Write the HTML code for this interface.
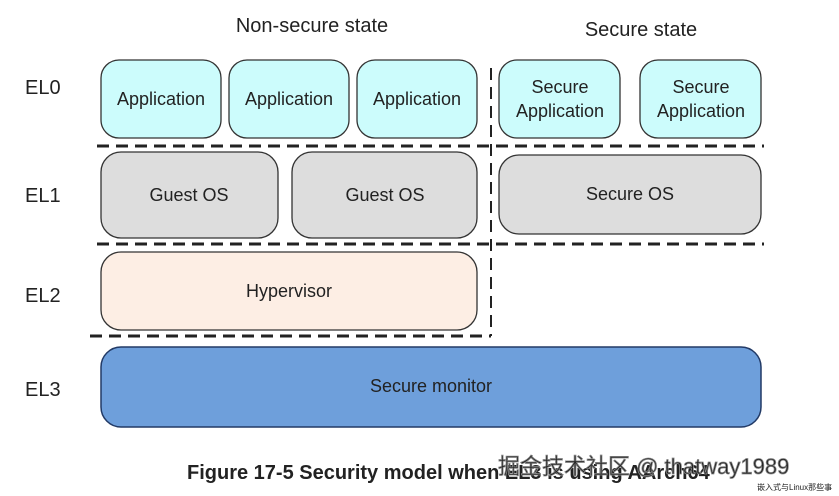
<!DOCTYPE html>
<html><head><meta charset="utf-8"><style>
html,body{margin:0;padding:0;background:#fff;}
svg{display:block;}
text{font-family:"Liberation Sans",Arial,sans-serif;fill:#222;}
</style></head><body>
<svg width="839" height="496" viewBox="0 0 839 496" xmlns="http://www.w3.org/2000/svg">
<text x="312" y="32" font-size="20" text-anchor="middle">Non-secure state</text>
<text x="641" y="36" font-size="20" text-anchor="middle">Secure state</text>
<g font-size="20">
<text x="25" y="94">EL0</text>
<text x="25" y="202">EL1</text>
<text x="25" y="302">EL2</text>
<text x="25" y="396">EL3</text>
</g>
<g fill="#ccfcfc" stroke="#333" stroke-width="1.3">
<rect x="101" y="60" width="120" height="78" rx="18"/>
<rect x="229" y="60" width="120" height="78" rx="18"/>
<rect x="357" y="60" width="120" height="78" rx="18"/>
<rect x="499" y="60" width="121" height="78" rx="18"/>
<rect x="640" y="60" width="121" height="78" rx="18"/>
</g>
<g font-size="18" text-anchor="middle">
<text x="161" y="105">Application</text>
<text x="289" y="105">Application</text>
<text x="417" y="105">Application</text>
<text x="560" y="93">Secure</text>
<text x="560" y="117">Application</text>
<text x="701" y="93">Secure</text>
<text x="701" y="117">Application</text>
</g>
<g fill="#dddddd" stroke="#333" stroke-width="1.3">
<rect x="101" y="152" width="177" height="86" rx="20"/>
<rect x="292" y="152" width="185" height="86" rx="20"/>
<rect x="499" y="155" width="262" height="79" rx="20"/>
</g>
<g font-size="18" text-anchor="middle">
<text x="189" y="201">Guest OS</text>
<text x="385" y="201">Guest OS</text>
<text x="630" y="200">Secure OS</text>
</g>
<rect x="101" y="252" width="376" height="78" rx="20" fill="#fdeee4" stroke="#333" stroke-width="1.3"/>
<text x="289" y="297" font-size="18" text-anchor="middle">Hypervisor</text>
<rect x="101" y="347" width="660" height="80" rx="20" fill="#6e9fdb" stroke="#223a66" stroke-width="1.5"/>
<text x="431" y="392" font-size="18" text-anchor="middle">Secure monitor</text>
<g stroke="#222" stroke-width="3" stroke-dasharray="12,7" fill="none">
<line x1="97" y1="146" x2="764" y2="146"/>
<line x1="97" y1="244" x2="764" y2="244"/>
<line x1="90" y1="336" x2="491" y2="336"/>
<line x1="491" y1="68" x2="491" y2="336" stroke-width="2"/>
</g>
<text x="187" y="479" font-size="20" font-weight="bold" fill="#111">Figure 17-5 Security model when EL3 is using AArch64</text>
<text x="498" y="474" font-size="22" fill="#fff" stroke="#888" stroke-width="0.8" style="font-family:'Liberation Sans','Noto Sans CJK SC',sans-serif">掘金技术社区 @ thatway1989</text>
<text x="757" y="490" font-size="8" fill="#c33" style="font-family:'Liberation Sans','Noto Sans CJK SC',sans-serif">嵌入式与Linux那些事</text>
</svg>
</body></html>
